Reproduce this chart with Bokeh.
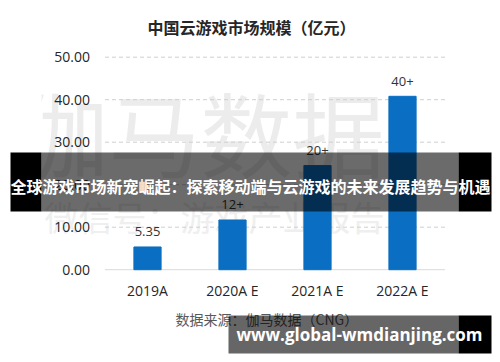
from bokeh.plotting import figure
from bokeh.models import (Range1d, FixedTicker, NumeralTickFormatter,
                          ColumnDataSource, LabelSet, Label, BoxAnnotation)
from bokeh.core.properties import value
from bokeh.embed import file_html
from bokeh.resources import INLINE

# ---- data ----
categories = ["2019A", "2020A E", "2021A E", "2022A E"]
values = [5.35, 11.7, 24.5, 40.8]
value_labels = ["5.35", "12+", "20+", "40+"]
y_ticks = [0, 10, 20, 30, 40, 50]
title_text = "中国云游戏市场规模（亿元）"
source_text = "数据来源：伽马数据（CNG）"
banner_text = "全球游戏市场新宠崛起：探索移动端与云游戏的未来发展趋势与机遇"
url_text = "www.global-wmdianjing.com"
watermark_big = "伽马数据"
watermark_small = "微信号：游戏产业报告"

CJK = "Noto Sans CJK SC"
NUM = "Open Sans"

# ---- layout (pixels) ----
W, H = 500, 362
PX_LEFT = 104.5      # left edge of category band 0
PX_PER_CAT = 85.0
BASE_Y = 269.2       # pixel row of value 0
PX_PER_UNIT = 4.25

n = len(categories)
xpos = [i + 0.5 for i in range(n)]

x_range = Range1d(-PX_LEFT / PX_PER_CAT, (W - PX_LEFT) / PX_PER_CAT)
y_range = Range1d((BASE_Y - H) / PX_PER_UNIT, BASE_Y / PX_PER_UNIT)

p = figure(width=W, height=H, x_range=x_range, y_range=y_range,
           output_backend="svg", toolbar_location=None, min_border=0,
           background_fill_color="white", border_fill_color="white")
p.outline_line_color = None
p.grid.visible = False

# image-pixel helper ranges for decorations
p.extra_x_ranges = {"img": Range1d(0, W)}
p.extra_y_ranges = {"img": Range1d(H, 0)}

# faint watermark behind the chart
p.add_layout(Label(x=200, y=130, x_range_name="img", y_range_name="img", text=watermark_big,
                   text_align="center", text_baseline="middle", text_font=CJK,
                   text_font_size="92px", text_color="#ececec", level="underlay"))
p.add_layout(BoxAnnotation(left=0, right=41, top=80, bottom=180, x_range_name="img",
                           y_range_name="img", fill_color="white", fill_alpha=1.0,
                           line_color=None, level="underlay"))
p.add_layout(Label(x=44, y=216, x_range_name="img", y_range_name="img", text=watermark_small,
                   text_align="left", text_baseline="middle", text_font=CJK,
                   text_font_size="34px", text_color="#efefef", level="underlay"))

# grid lines (dashed) and solid baseline, limited to the category span
p.segment(x0=[0] * (len(y_ticks) - 1), x1=[n] * (len(y_ticks) - 1),
          y0=y_ticks[1:], y1=y_ticks[1:], line_color="#cfcfcf", line_dash="4 3",
          line_width=1)
p.segment(x0=[0], x1=[n], y0=[0], y1=[0], line_color="#d9d9d9", line_width=1)

src = ColumnDataSource(dict(x=xpos, val=values, lab=value_labels))
p.vbar(x="x", top="val", width=0.32, source=src, color="#0a6fc2")

p.add_layout(LabelSet(x="x", y="val", text="lab", source=src, y_offset=15,
                      text_align="center", text_baseline="middle",
                      text_font=value(NUM), text_font_size="13px", text_color="#333333"))

# axes, fixed inside the frame
p.xaxis.fixed_location = 0
p.yaxis.fixed_location = 0
p.xaxis.ticker = FixedTicker(ticks=xpos)
p.xaxis.major_label_overrides = {x: c for x, c in zip(xpos, categories)}
p.yaxis.ticker = FixedTicker(ticks=y_ticks)
p.yaxis.formatter = NumeralTickFormatter(format="0.00")
for ax in (p.xaxis, p.yaxis):
    ax.axis_line_color = None
    ax.major_tick_line_color = None
    ax.minor_tick_line_color = None
    ax.major_label_text_font = NUM
    ax.major_label_text_font_size = "14px"
    ax.major_label_text_color = "#262626"
p.yaxis.major_label_standoff = 9
p.xaxis.major_label_standoff = 5

# title and source
p.add_layout(Label(x=251, y=26, x_range_name="img", y_range_name="img", text=title_text,
                   text_align="center", text_baseline="middle", text_font=CJK,
                   text_font_style="bold", text_font_size="16px", text_color="#262626"))
p.add_layout(Label(x=175, y=318, x_range_name="img", y_range_name="img", text=source_text,
                   text_align="left", text_baseline="middle", text_font=CJK,
                   text_font_size="14px", text_color="#595959"))

# overlay banners
def box(l, r, t, b, alpha):
    p.add_layout(BoxAnnotation(left=l, right=r, top=t, bottom=b, x_range_name="img",
                               y_range_name="img", fill_color="black", fill_alpha=alpha,
                               line_color=None, level="overlay"))

box(10, 41, 152, 211, 1.0)
box(41, 458, 152, 211, 0.58)
box(458, 491, 152, 211, 1.0)
box(228, 458, 315, 353, 0.6)
box(458, 491, 315, 353, 1.0)

p.add_layout(Label(x=250, y=185, x_range_name="img", y_range_name="img", text=banner_text,
                   text_align="center", text_baseline="middle", text_font=CJK,
                   text_font_style="bold", text_font_size="16px", text_color="white",
                   level="overlay"))
p.add_layout(Label(x=359, y=334, x_range_name="img", y_range_name="img", text=url_text,
                   text_align="center", text_baseline="middle", text_font=NUM,
                   text_font_style="bold", text_font_size="17px", text_color="white",
                   level="overlay"))

open("out.html", "w").write(file_html(p, INLINE))
